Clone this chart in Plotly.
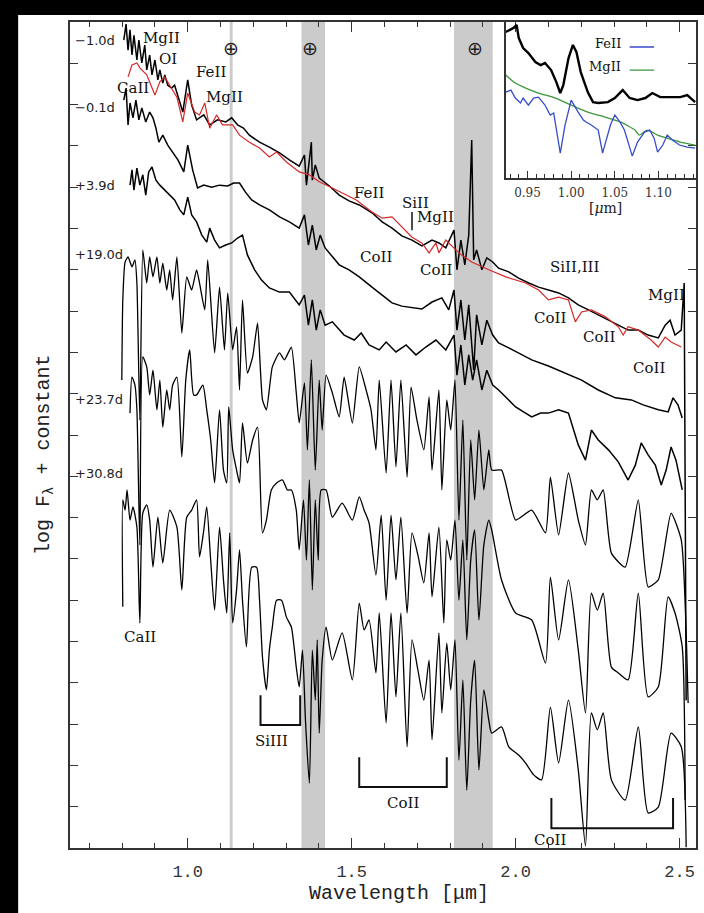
import plotly.graph_objects as go

# ---------------- data (wavelength in micron, log F + constant) ----------------
spec_m1_0 = [(0.805,19.56),(0.812,19.95),(0.818,19.32),(0.824,19.81),(0.830,19.20),(0.836,19.68),(0.845,19.08),(0.851,19.56),(0.860,19.01),(0.869,19.44),(0.875,18.84),(0.884,19.20),(0.891,18.72),(0.900,19.08),(0.909,18.60),(0.915,18.84),(0.924,18.52),(0.930,18.72),(0.939,18.47),(0.951,18.40),(0.960,18.47),(0.970,18.23),(0.985,17.82),(1.000,18.60),(1.012,17.99),(1.027,17.63),(1.049,17.75),(1.067,17.51),(1.091,17.63),(1.116,17.58),(1.134,17.68),(1.152,17.51),(1.170,17.43),(1.188,17.26),(1.219,17.09),(1.249,16.97),(1.280,16.83),(1.310,16.66),(1.340,16.51),(1.356,16.78),(1.362,16.05),(1.371,16.66),(1.377,17.09),(1.380,16.17),(1.389,16.54),(1.401,16.22),(1.432,16.03),(1.462,15.81),(1.492,15.67),(1.523,15.57),(1.562,15.38),(1.593,15.16),(1.623,15.01),(1.653,14.82),(1.684,14.72),(1.714,14.58),(1.745,14.72),(1.766,14.65),(1.787,14.53),(1.812,14.96),(1.821,14.00),(1.833,14.72),(1.845,14.12),(1.857,14.84),(1.866,17.14),(1.872,14.24),(1.881,14.48),(1.897,14.00),(1.912,14.29),(1.930,14.19),(1.948,14.04),(1.979,13.95),(2.009,13.80),(2.040,13.68),(2.070,13.58),(2.100,13.51),(2.131,13.44),(2.161,13.32),(2.191,13.15),(2.222,13.03),(2.252,12.91),(2.283,12.78),(2.313,12.66),(2.343,12.54),(2.374,12.54),(2.404,12.42),(2.435,12.35),(2.456,12.66),(2.471,12.78),(2.486,12.42),(2.505,12.54),(2.514,13.68),(2.520,3.58)]

model_m1_0 = [(0.818,18.67),(0.830,18.96),(0.845,19.01),(0.854,18.89),(0.875,18.72),(0.891,18.40),(0.900,18.23),(0.915,18.55),(0.930,18.67),(0.945,18.47),(0.967,18.18),(0.985,17.58),(1.000,18.28),(1.021,17.82),(1.036,17.75),(1.052,18.04),(1.067,17.43),(1.088,17.75),(1.106,17.51),(1.137,17.51),(1.158,17.26),(1.188,17.09),(1.219,16.95),(1.249,16.73),(1.271,16.85),(1.301,16.61),(1.340,16.37),(1.371,16.30),(1.401,16.13),(1.441,15.98),(1.483,15.81),(1.514,15.69),(1.562,15.40),(1.593,15.25),(1.623,15.28),(1.653,15.04),(1.684,14.79),(1.714,14.65),(1.736,14.41),(1.757,14.65),(1.766,14.41),(1.787,14.72),(1.827,14.41),(1.866,14.19),(1.918,14.00),(1.970,13.83),(2.030,13.68),(2.070,13.51),(2.100,13.27),(2.131,13.34),(2.161,13.27),(2.182,12.74),(2.201,12.98),(2.231,13.03),(2.274,12.86),(2.313,12.62),(2.328,12.42),(2.343,12.62),(2.374,12.54),(2.413,12.30),(2.435,12.13),(2.456,12.37),(2.474,12.25),(2.505,12.13)]

spec_m0_1 = [(0.805,18.11),(0.812,18.40),(0.818,17.51),(0.824,18.04),(0.833,17.68),(0.842,18.11),(0.851,17.63),(0.860,17.92),(0.872,17.58),(0.884,17.82),(0.894,17.68),(0.903,17.43),(0.912,17.09),(0.924,17.26),(0.939,17.02),(0.954,16.85),(0.970,16.66),(0.988,16.37),(1.000,17.02),(1.015,16.42),(1.030,15.98),(1.049,16.05),(1.073,16.00),(1.097,16.05),(1.122,16.03),(1.140,16.10),(1.158,16.10),(1.176,15.88),(1.195,15.69),(1.219,15.57),(1.249,15.45),(1.280,15.28),(1.310,15.16),(1.340,15.01),(1.356,15.33),(1.368,14.60),(1.380,15.08),(1.392,14.48),(1.404,14.84),(1.419,14.53),(1.441,14.31),(1.462,14.12),(1.492,14.00),(1.523,13.83),(1.562,13.58),(1.593,13.39),(1.623,13.20),(1.653,13.12),(1.684,13.08),(1.714,13.05),(1.745,13.22),(1.775,13.32),(1.796,13.03),(1.812,13.51),(1.821,12.54),(1.833,13.27),(1.845,12.30),(1.857,13.15),(1.872,11.57),(1.881,12.91),(1.897,12.18),(1.912,12.78),(1.930,12.42),(1.948,12.23),(1.979,12.11),(2.009,11.99),(2.049,11.82),(2.100,11.67),(2.152,11.50),(2.201,11.33),(2.252,11.09),(2.304,10.90),(2.353,10.85),(2.389,10.73),(2.435,10.61),(2.465,10.56),(2.480,10.90),(2.495,10.73),(2.508,10.41)]

spec_p3_9 = [(0.824,16.05),(0.830,16.42),(0.836,15.93),(0.845,16.46),(0.854,16.05),(0.863,16.30),(0.872,15.81),(0.881,16.37),(0.891,16.49),(0.903,16.17),(0.915,16.05),(0.930,15.93),(0.945,15.81),(0.960,15.69),(0.976,15.45),(0.988,15.33),(1.000,15.76),(1.012,15.33),(1.027,15.16),(1.043,14.84),(1.058,14.67),(1.067,15.01),(1.082,14.72),(1.097,14.53),(1.116,14.60),(1.134,14.65),(1.152,14.77),(1.167,14.84),(1.182,14.36),(1.204,14.00),(1.225,13.75),(1.249,13.56),(1.280,13.46),(1.310,13.46),(1.340,13.15),(1.356,13.39),(1.368,12.66),(1.380,13.27),(1.392,12.54),(1.404,13.03),(1.419,12.66),(1.441,12.74),(1.477,12.42),(1.508,12.30),(1.529,12.47),(1.553,12.18),(1.584,12.06),(1.605,12.25),(1.635,12.01),(1.666,12.18),(1.696,11.94),(1.726,12.13),(1.757,12.30),(1.787,12.06),(1.812,12.42),(1.821,11.45),(1.833,12.18),(1.845,11.21),(1.857,11.94),(1.869,11.33),(1.881,11.82),(1.897,11.09),(1.912,11.57),(1.930,11.21),(1.948,11.09),(1.973,10.90),(2.000,10.68),(2.024,10.56),(2.049,10.44),(2.076,10.53),(2.100,10.53),(2.131,10.61),(2.161,10.53),(2.191,9.76),(2.213,9.39),(2.231,10.12),(2.252,9.88),(2.283,9.64),(2.313,9.35),(2.343,8.91),(2.365,9.27),(2.383,9.81),(2.404,9.52),(2.426,9.27),(2.444,8.79),(2.459,9.15),(2.474,9.71),(2.489,9.39),(2.508,8.67)]

spec_p19_0 = [(0.799,11.33),(0.802,13.27),(0.809,14.19),(0.818,14.31),(0.830,14.07),(0.839,14.24),(0.845,13.68),(0.854,10.36),(0.863,14.48),(0.875,13.68),(0.884,14.31),(0.894,13.83),(0.906,14.31),(0.915,13.68),(0.924,14.16),(0.936,13.51),(0.945,14.00),(0.954,13.27),(0.967,14.31),(0.982,12.47),(0.997,13.83),(1.012,13.51),(1.027,14.00),(1.036,13.68),(1.052,13.03),(1.061,14.24),(1.082,11.99),(1.097,13.58),(1.112,12.06),(1.122,13.44),(1.137,12.06),(1.149,12.62),(1.158,11.09),(1.167,13.27),(1.182,11.50),(1.198,11.89),(1.213,12.71),(1.228,10.85),(1.240,10.61),(1.258,11.65),(1.280,11.99),(1.295,11.82),(1.316,12.13),(1.331,11.02),(1.340,10.29),(1.356,11.26),(1.365,9.64),(1.377,11.82),(1.389,9.15),(1.401,11.33),(1.410,10.12),(1.422,11.45),(1.441,11.02),(1.462,10.44),(1.477,11.40),(1.502,10.29),(1.523,11.65),(1.544,11.09),(1.559,10.61),(1.574,9.64),(1.584,11.33),(1.605,9.08),(1.620,11.33),(1.635,9.23),(1.650,11.33),(1.669,8.98),(1.681,11.16),(1.699,10.36),(1.720,9.64),(1.736,10.92),(1.745,9.15),(1.766,11.09),(1.775,8.67),(1.790,10.85),(1.802,10.12),(1.815,11.33),(1.827,7.94),(1.839,10.36),(1.851,6.97),(1.863,9.88),(1.875,8.43),(1.888,10.12),(1.903,8.67),(1.918,9.64),(1.927,9.15),(1.957,9.15),(2.000,7.94),(2.049,8.18),(2.091,7.63),(2.106,8.98),(2.131,7.58),(2.161,9.08),(2.191,7.94),(2.213,7.34),(2.231,8.67),(2.249,8.43),(2.267,8.67),(2.292,7.14),(2.334,6.80),(2.374,8.43),(2.404,6.32),(2.435,6.49),(2.474,8.11),(2.505,7.46),(2.526,3.51)]

spec_p23_7 = [(0.824,10.53),(0.830,11.40),(0.839,11.21),(0.845,10.61),(0.854,7.34),(0.863,11.89),(0.875,11.65),(0.884,10.97),(0.894,11.57),(0.906,10.61),(0.915,11.33),(0.924,10.19),(0.936,11.09),(0.945,10.61),(0.954,11.21),(0.967,11.40),(0.982,9.47),(0.994,11.33),(1.006,12.06),(1.018,10.97),(1.027,10.97),(1.046,11.21),(1.058,10.61),(1.070,9.88),(1.082,8.84),(1.097,10.61),(1.109,9.15),(1.119,8.84),(1.125,10.68),(1.137,9.64),(1.149,9.15),(1.158,8.84),(1.167,10.29),(1.182,9.32),(1.198,9.88),(1.213,10.19),(1.228,7.63),(1.240,7.94),(1.255,8.67),(1.271,8.84),(1.289,8.91),(1.304,8.67),(1.316,8.67),(1.331,8.18),(1.340,7.22),(1.353,8.43),(1.362,6.97),(1.371,8.91),(1.380,6.25),(1.389,8.43),(1.398,6.97),(1.407,8.67),(1.422,8.67),(1.441,8.01),(1.471,8.35),(1.502,7.94),(1.523,8.50),(1.538,8.18),(1.553,7.87),(1.574,6.61),(1.590,8.06),(1.605,6.00),(1.620,8.06),(1.635,6.49),(1.650,8.01),(1.669,5.69),(1.684,7.63),(1.702,7.09),(1.720,6.42),(1.736,7.63),(1.745,6.08),(1.766,7.77),(1.781,5.45),(1.790,7.46),(1.802,6.97),(1.815,7.94),(1.827,6.00),(1.839,7.46),(1.851,5.04),(1.863,6.97),(1.875,7.70),(1.888,5.52),(1.903,7.34),(1.918,7.94),(1.927,7.70),(1.957,6.49),(2.000,5.69),(2.049,5.52),(2.091,4.48),(2.106,6.56),(2.131,5.04),(2.161,6.49),(2.191,4.79),(2.213,3.27),(2.231,6.17),(2.249,5.76),(2.267,6.17),(2.292,4.38),(2.313,4.24),(2.343,4.07),(2.374,6.17),(2.404,3.66),(2.435,3.90),(2.465,6.08),(2.486,5.69),(2.508,4.87),(2.517,1.16)]

spec_p30_8 = [(0.802,5.84),(0.802,8.43),(0.809,8.18),(0.815,8.67),(0.824,7.94),(0.833,8.26),(0.845,7.77),(0.854,5.45),(0.863,8.11),(0.875,8.31),(0.884,7.94),(0.894,6.80),(0.909,8.01),(0.924,6.90),(0.945,8.18),(0.967,7.77),(0.982,6.25),(0.997,8.01),(1.012,8.18),(1.027,8.43),(1.036,7.05),(1.049,7.70),(1.058,8.26),(1.070,6.97),(1.082,5.76),(1.097,7.77),(1.109,6.49),(1.119,5.69),(1.128,7.63),(1.137,5.45),(1.149,6.25),(1.158,7.22),(1.167,6.00),(1.179,4.87),(1.195,6.80),(1.210,6.80),(1.219,6.00),(1.228,4.62),(1.240,3.83),(1.249,4.79),(1.258,5.35),(1.271,6.00),(1.286,6.00),(1.301,5.59),(1.316,5.35),(1.331,4.38),(1.340,3.90),(1.350,4.79),(1.359,3.10),(1.371,1.57),(1.380,4.79),(1.389,3.58),(1.395,5.04),(1.401,2.78),(1.410,4.55),(1.422,5.35),(1.441,4.55),(1.471,5.21),(1.502,4.07),(1.523,5.93),(1.538,5.28),(1.553,5.52),(1.574,4.24),(1.584,5.69),(1.605,3.03),(1.620,5.69),(1.635,3.66),(1.650,5.69),(1.669,2.45),(1.684,5.04),(1.702,4.31),(1.720,3.58),(1.736,4.55),(1.745,2.62),(1.766,5.21),(1.775,3.27),(1.790,4.96),(1.802,3.83),(1.815,5.04),(1.827,2.13),(1.839,4.07),(1.851,1.40),(1.863,3.58),(1.875,4.55),(1.888,1.89),(1.903,3.83),(1.918,3.10),(1.927,2.78),(1.957,2.93),(1.979,2.45),(2.009,2.25),(2.030,2.06),(2.055,1.77),(2.079,1.65),(2.106,3.41),(2.131,2.06),(2.161,3.58),(2.191,1.89),(2.213,0.05),(2.231,3.27),(2.249,2.86),(2.267,3.27),(2.292,1.65),(2.334,1.16),(2.374,2.93),(2.404,0.85),(2.435,0.99),(2.474,2.78),(2.505,2.45),(2.520,0.02)]

# inset (relative flux units)
inset_obs = [(0.925,9.36),(0.934,9.62),(0.9375,9.81),(0.940,8.97),(0.945,8.33),(0.951,8.01),(0.959,7.44),(0.965,7.24),(0.970,7.37),(0.977,6.92),(0.983,6.15),(0.9875,5.45),(0.991,5.96),(0.997,7.69),(1.002,8.53),(1.006,8.08),(1.011,6.79),(1.019,5.51),(1.025,4.87),(1.031,4.81),(1.042,4.87),(1.050,5.13),(1.059,5.64),(1.067,5.13),(1.076,5.00),(1.085,5.13),(1.093,5.45),(1.102,5.19),(1.114,5.19),(1.125,5.19),(1.133,5.32),(1.142,4.87)]
inset_mg2 = [(0.925,6.60),(0.936,6.09),(0.948,5.77),(0.9625,5.45),(0.982,5.13),(1.000,4.68),(1.019,4.23),(1.039,3.91),(1.057,3.59),(1.073,3.08),(1.078,2.76),(1.087,3.08),(1.099,2.76),(1.110,2.56),(1.125,2.31),(1.142,2.12)]
inset_fe2 = [(0.925,5.51),(0.931,5.64),(0.936,5.13),(0.942,4.81),(0.945,5.13),(0.951,4.68),(0.957,5.13),(0.9625,5.19),(0.970,4.68),(0.976,4.04),(0.980,4.17),(0.9875,1.60),(0.993,3.40),(1.000,5.00),(1.008,4.23),(1.014,3.72),(1.017,3.59),(1.023,3.40),(1.031,3.08),(1.036,1.60),(1.045,3.40),(1.050,4.04),(1.056,3.59),(1.061,3.08),(1.070,1.41),(1.076,2.31),(1.084,2.95),(1.090,3.08),(1.095,2.56),(1.099,1.67),(1.105,2.12),(1.110,2.76),(1.116,2.44),(1.124,2.12),(1.133,1.99),(1.142,1.92)]

epoch_labels = ["\u22121.0d", "\u22120.1d", "+3.9d", "+19.0d", "+23.7d", "+30.8d"]
epoch_label_y = [19.56, 17.92, 16.05, 14.36, 10.85, 9.08]

telluric_bands = [(1.128, 1.137), (1.347, 1.419), (1.812, 1.930)]
telluric_marks = [1.131, 1.374, 1.875]

line_ids = [("MgII", 0.921, 19.61), ("OI", 0.939, 19.10), ("CaII", 0.833, 18.40),
            ("FeII", 1.070, 18.79), ("MgII", 1.112, 18.18), ("FeII", 1.553, 15.86),
            ("SiII", 1.696, 15.62), ("MgII", 1.757, 15.28), ("CoII", 1.574, 14.31),
            ("CoII", 1.757, 14.00), ("SiII,III", 2.182, 14.07), ("CoII", 2.106, 12.83),
            ("CoII", 2.255, 12.37), ("MgII", 2.459, 13.39), ("CoII", 2.407, 11.62),
            ("CaII", 0.854, 5.11), ("SiIII", 1.255, 2.59), ("CoII", 1.657, 1.09),
            ("CoII", 2.106, 0.19)]

# brackets: (x_left, x_right, y_top, y_bottom)
brackets = [(1.222, 1.343, 3.70, 2.98), (1.523, 1.790, 2.20, 1.48), (2.109, 2.480, 1.21, 0.48)]
siII_tick = (1.684, 15.40, 14.96)

# ---------------- figure ----------------
fig = go.Figure()

for x0, x1 in telluric_bands:
    fig.add_shape(type="rect", xref="x", yref="y", x0=x0, x1=x1, y0=0, y1=20,
                  fillcolor="#cbcbcb", line_width=0, layer="below")

def add_line(pairs, color, width, xa="x", ya="y", smooth=None):
    xs = [p[0] for p in pairs]
    ys = [p[1] for p in pairs]
    line = dict(color=color, width=width)
    if smooth:
        line.update(shape="spline", smoothing=smooth)
    fig.add_trace(go.Scatter(x=xs, y=ys, mode="lines", xaxis=xa, yaxis=ya,
                             line=line, hoverinfo="skip", showlegend=False))

for s, sm, w in [(spec_p30_8, 0.6, 1.3), (spec_p23_7, 0.6, 1.3), (spec_p19_0, 0.5, 1.3),
                 (spec_p3_9, None, 1.5), (spec_m0_1, None, 1.5), (spec_m1_0, None, 1.5)]:
    add_line(s, "black", w, smooth=sm)
add_line(model_m1_0, "rgb(214,40,40)", 1.2)

add_line(inset_mg2, "rgb(60,150,60)", 1.3, "x2", "y2", smooth=0.6)
add_line(inset_fe2, "rgb(55,75,205)", 1.3, "x2", "y2")
add_line(inset_obs, "black", 2.4, "x2", "y2")

ann = []
for t, y in zip(epoch_labels, epoch_label_y):
    ann.append(dict(x=0.650, y=y, xref="x", yref="y", text=t, showarrow=False,
                    xanchor="left", yanchor="middle",
                    font=dict(family="DejaVu Sans", size=13, color="#222")))
for xm in telluric_marks:
    ann.append(dict(x=xm, y=19.38, xref="x", yref="y", text="\u2295", showarrow=False,
                    xanchor="center", yanchor="middle",
                    font=dict(family="DejaVu Sans", size=19, color="#222")))
for t, x, y in line_ids:
    ann.append(dict(x=x, y=y, xref="x", yref="y", text=t, showarrow=False,
                    xanchor="center", yanchor="middle",
                    font=dict(family="DejaVu Serif", size=15, color="#111")))

for xl, xr, yt, yb in brackets:
    fig.add_shape(type="path", xref="x", yref="y",
                  path=f"M {xl},{yt} L {xl},{yb} L {xr},{yb} L {xr},{yt}",
                  line=dict(color="#111", width=2))
fig.add_shape(type="line", xref="x", yref="y", x0=siII_tick[0], x1=siII_tick[0],
              y0=siII_tick[1], y1=siII_tick[2], line=dict(color="#111", width=1.5))

# inset legend
ann.append(dict(x=1.059, y=8.65, xref="x2", yref="y2", text="FeII", showarrow=False,
                xanchor="right", yanchor="middle",
                font=dict(family="DejaVu Serif", size=13, color="#111")))
ann.append(dict(x=1.059, y=7.12, xref="x2", yref="y2", text="MgII", showarrow=False,
                xanchor="right", yanchor="middle",
                font=dict(family="DejaVu Serif", size=13, color="#111")))
fig.add_shape(type="line", xref="x2", yref="y2", x0=1.067, x1=1.095, y0=8.40, y1=8.40,
              line=dict(color="rgb(55,75,205)", width=1.3))
fig.add_shape(type="line", xref="x2", yref="y2", x0=1.067, x1=1.095, y0=6.92, y1=6.92,
              line=dict(color="rgb(60,150,60)", width=1.3))
ann.append(dict(x=0.855, y=0.775, xref="paper", yref="paper", text="[<i>\u03bc</i>m]",
                showarrow=False, xanchor="center", yanchor="middle",
                font=dict(family="DejaVu Serif", size=14, color="#222")))

# axis titles
ann.append(dict(x=0.525, y=-0.0545, xref="paper", yref="paper", text="Wavelength [\u03bcm]",
                showarrow=False, xanchor="center", yanchor="middle",
                font=dict(family="Liberation Mono", size=20, color="#222")))
ann.append(dict(x=-0.0398, y=0.476, xref="paper", yref="paper",
                text="log F<sub>\u03bb</sub> + constant", textangle=-90,
                showarrow=False, xanchor="center", yanchor="middle",
                font=dict(family="Liberation Mono", size=20, color="#222")))

# black border strips of the original scan
fig.add_shape(type="rect", xref="paper", yref="paper", x0=-0.2, x1=1.1, y0=1.0085, y1=1.05,
              fillcolor="black", line_width=0, layer="above")
fig.add_shape(type="rect", xref="paper", yref="paper", x0=-0.2, x1=-0.0828, y0=-0.2, y1=1.05,
              fillcolor="black", line_width=0, layer="above")

axcol = "#333"
fig.update_layout(
    width=704, height=913,
    margin=dict(l=70, r=6, t=22, b=65),
    paper_bgcolor="white", plot_bgcolor="rgba(0,0,0,0)",
    annotations=ann,
    xaxis=dict(range=[0.641, 2.550], tickmode="linear", tick0=1.0, dtick=0.5, tickformat=".1f",
               ticks="inside", ticklen=10, tickwidth=1.2, tickcolor=axcol,
               minor=dict(tickmode="linear", tick0=1.0, dtick=0.1, ticks="inside", ticklen=5,
                          tickwidth=1.2, tickcolor=axcol),
               showline=True, linecolor=axcol, linewidth=1.5, mirror="ticks",
               showgrid=False, zeroline=False, ticklabelstandoff=7,
               tickfont=dict(family="Liberation Mono", size=17, color="#333")),
    yaxis=dict(range=[0, 20], tickmode="linear", tick0=0, dtick=1, ticks="inside", ticklen=8,
               tickwidth=1.2, tickcolor=axcol, showticklabels=False,
               showline=True, linecolor=axcol, linewidth=1.5, mirror="ticks",
               showgrid=False, zeroline=False),
    xaxis2=dict(domain=[0.696, 1.0], anchor="y2", range=[0.925, 1.143], tickmode="linear",
                tick0=0.95, dtick=0.05, tickformat=".2f", ticks="inside", ticklen=7,
                tickwidth=1.2, tickcolor=axcol,
                minor=dict(tickmode="linear", tick0=0.95, dtick=0.01, ticks="inside", ticklen=4,
                           tickwidth=1.2, tickcolor=axcol),
                showline=True, linecolor=axcol, linewidth=1.5, mirror=False,
                showgrid=False, zeroline=False, ticklabelstandoff=3,
                tickfont=dict(family="DejaVu Serif", size=12, color="#333")),
    yaxis2=dict(domain=[0.811, 1.0], anchor="x2", range=[0, 10], showticklabels=False,
                ticks="", showline=True, linecolor=axcol, linewidth=1.5, mirror=False,
                showgrid=False, zeroline=False),
)

fig.write_html("out.html")
